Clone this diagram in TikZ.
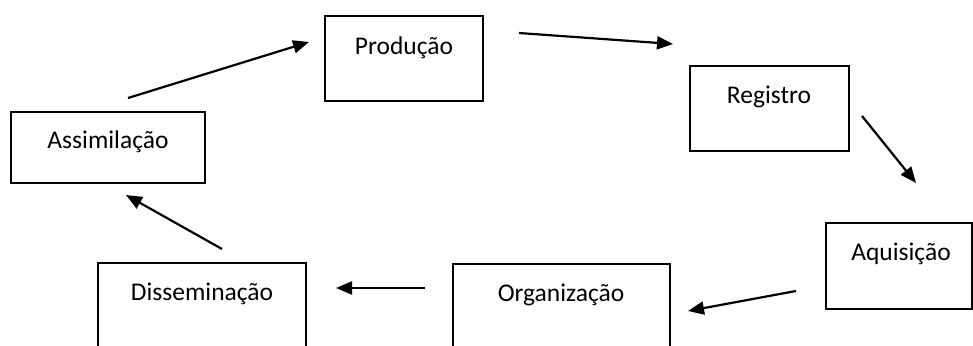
\documentclass[tikz,border=0pt]{standalone}
\usepackage{fontspec}
\setmainfont{Carlito}
\usetikzlibrary{arrows.meta}
\begin{document}
\begin{tikzpicture}[x=1pt,y=-1pt,
  stagebox/.style={draw=black,line width=1.8pt,fill=none},
  lbl/.style={anchor=base,inner sep=0pt,font=\fontsize{25.5}{30}\selectfont},
  flow/.style={line width=2.2pt,-{Triangle[length=16pt,width=13pt]}}]
\useasboundingbox (0,0) rectangle (973,345);
\clip (0,0) rectangle (973,345);
% boxes
\draw[stagebox] (325,16) rectangle (483,101);
\draw[stagebox] (690,66) rectangle (849,151);
\draw[stagebox] (826,223) rectangle (972,309);
\draw[stagebox] (453,264) rectangle (670,360);
\draw[stagebox] (98,263) rectangle (306,360);
\draw[stagebox] (11,112) rectangle (205,183);
% labels
\node[lbl] (prod) at (404,54) {Produção};
\node[lbl] (reg) at (769,103) {Registro};
\node[lbl] (aqu) at (901,260) {Aquisição};
\node[lbl] (org) at (561,301) {Organização};
\node[lbl] (dis) at (202,300) {Disseminação};
\node[lbl] (ass) at (108,148) {Assimilação};
% arrow ends
\coordinate (a1s) at (128,98);  \coordinate (a1e) at (309,42);
\coordinate (a2s) at (519,33);  \coordinate (a2e) at (673,44);
\coordinate (a3s) at (862,116); \coordinate (a3e) at (916,183);
\coordinate (a4s) at (796,291); \coordinate (a4e) at (688,311);
\coordinate (a5s) at (425,288); \coordinate (a5e) at (336,288);
\coordinate (a6s) at (222,249); \coordinate (a6e) at (126,195);
\draw[flow] (a1s) -- (a1e);
\draw[flow] (a2s) -- (a2e);
\draw[flow] (a3s) -- (a3e);
\draw[flow] (a4s) -- (a4e);
\draw[flow] (a5s) -- (a5e);
\draw[flow] (a6s) -- (a6e);
\end{tikzpicture}
\end{document}
